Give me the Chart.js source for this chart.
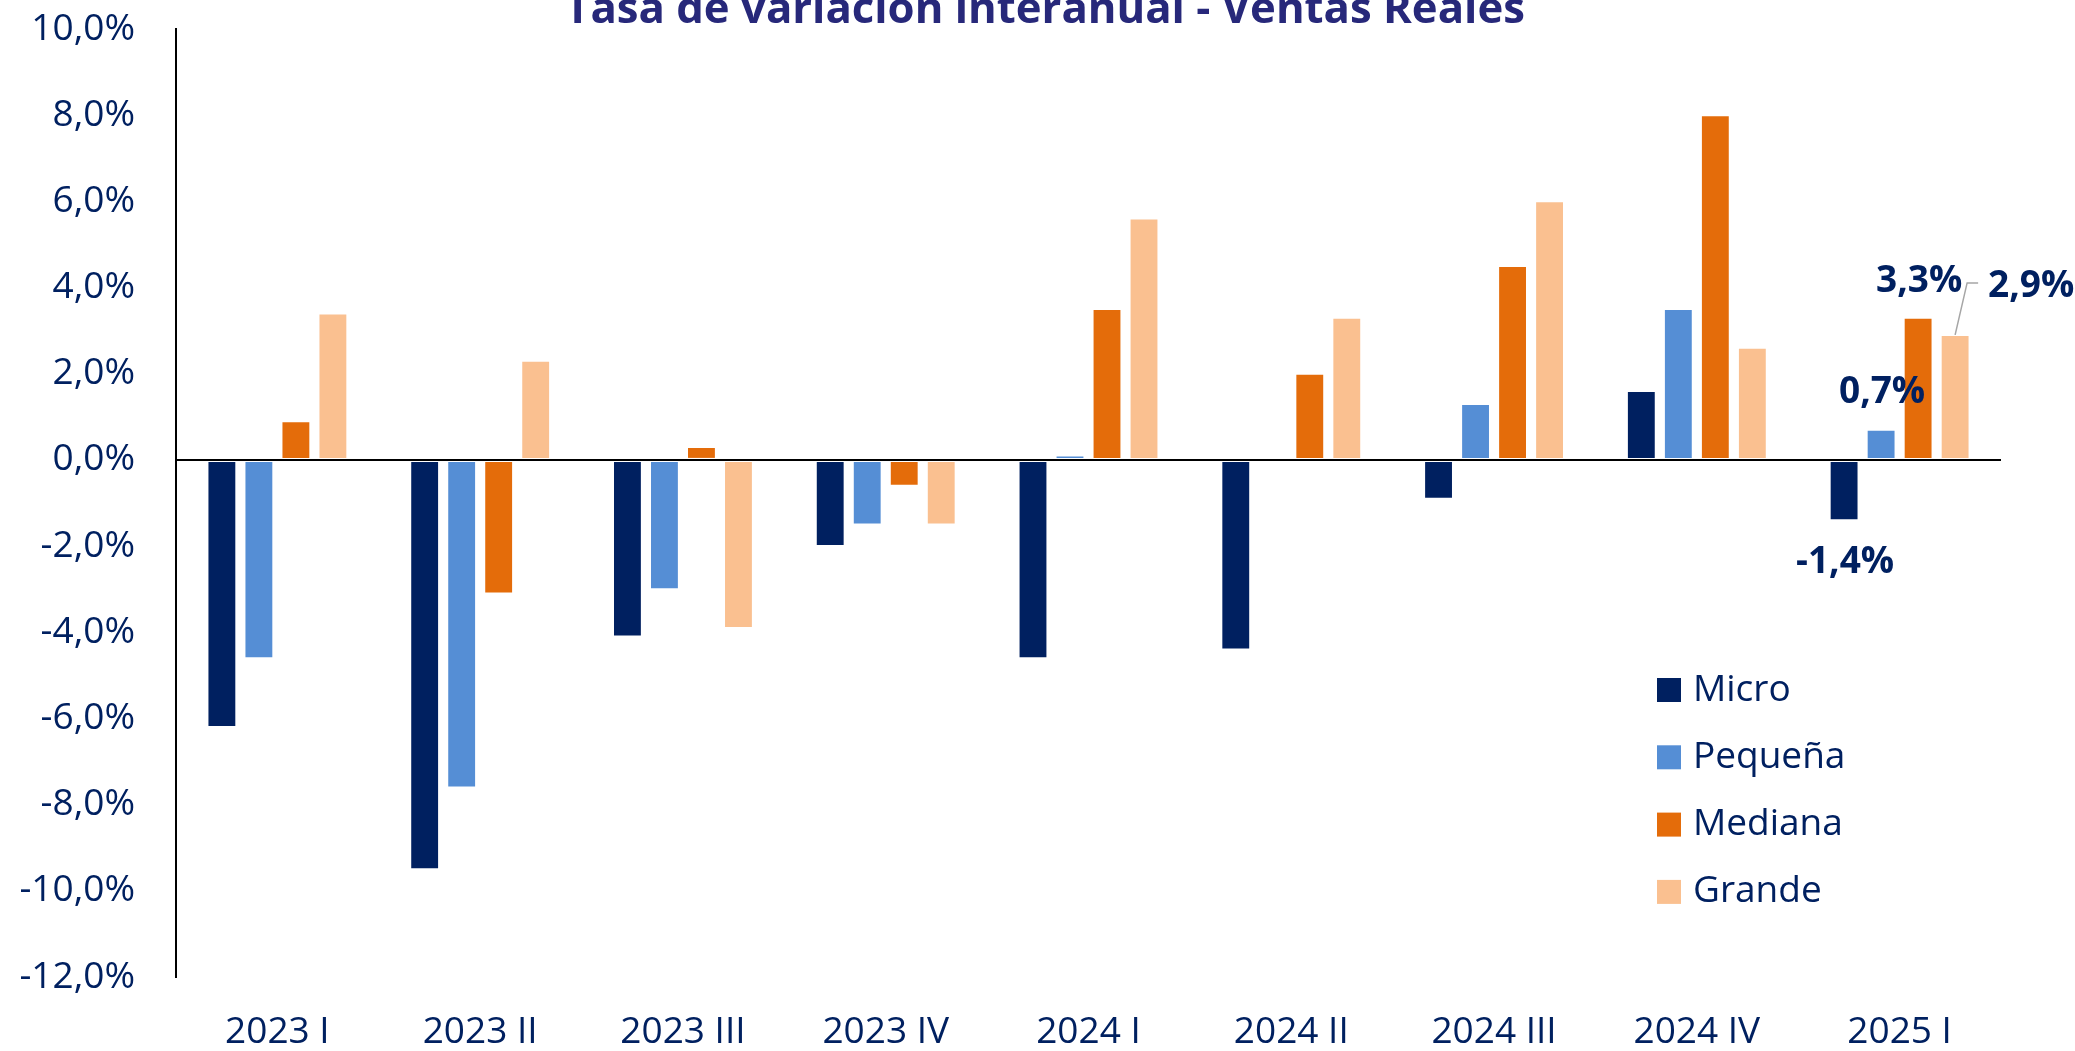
<!DOCTYPE html>
<html>
<head>
<meta charset="utf-8">
<script src="https://cdn.jsdelivr.net/npm/chart.js@4.4.1/dist/chart.umd.min.js"></script>
<style>
  html, body { margin: 0; padding: 0; background: #fff; }
  #wrap { width: 2075px; height: 1051px; position: relative; }
</style>
</head>
<body>
<div id="wrap"><canvas id="barChart" width="2075" height="1051"></canvas></div>
<script>
// Data
const categories = ['2023 I', '2023 II', '2023 III', '2023 IV', '2024 I', '2024 II', '2024 III', '2024 IV', '2025 I'];
const micro   = [-6.2, -9.5, -4.1, -2.0, -4.6, -4.4, -0.9, 1.6, -1.4];
const pequena = [-4.6, -7.6, -3.0, -1.5,  0.1,  0.0,  1.3, 3.5,  0.7];
const mediana = [ 0.9, -3.1,  0.3, -0.6,  3.5,  2.0,  4.5, 8.0,  3.3];
const grande  = [ 3.4,  2.3, -3.9, -1.5,  5.6,  3.3,  6.0, 2.6,  2.9];
const seriesNames = ['Micro', 'Pequeña', 'Mediana', 'Grande'];
const yTicks = [10, 8, 6, 4, 2, 0, -2, -4, -6, -8, -10, -12];
const title = 'Tasa de variación interanual - Ventas Reales';

const colors = ['#002060', '#558ED5', '#E46C0A', '#FAC090'];
const navy = '#002060';
const FONT = '"Open Sans", Lato, sans-serif';

const fmt = v => v.toFixed(1).replace('.', ',') + '%';

// title, cut at the top like in the original
const titlePlugin = {
  id: 'topTitle',
  afterDraw(chart) {
    const ctx = chart.ctx;
    ctx.save();
    let size = 44;
    ctx.font = 'bold ' + size + 'px ' + FONT;
    size = size * 960 / ctx.measureText(title).width;
    ctx.font = 'bold ' + size + 'px ' + FONT;
    ctx.fillStyle = '#27287A';
    ctx.textAlign = 'center';
    ctx.textBaseline = 'alphabetic';
    ctx.fillText(title, 1045, 23);
    ctx.restore();
  }
};

// labels only on the last quarter
const lastLabels = {
  id: 'lastLabels',
  afterDatasetsDraw(chart) {
    const ctx = chart.ctx;
    const i = categories.length - 1;
    ctx.save();
    ctx.font = 'bold 37px ' + FONT;
    ctx.fillStyle = navy;
    ctx.textAlign = 'center';
    ctx.textBaseline = 'middle';
    const bars = chart.data.datasets.map((ds, d) => chart.getDatasetMeta(d).data[i]);
    const vals = chart.data.datasets.map(ds => ds.data[i]);
    // Micro below
    ctx.fillText(fmt(vals[0]), bars[0].x + 1, bars[0].y + 42);
    // Pequeña, Mediana above
    ctx.fillText(fmt(vals[1]), bars[1].x + 1, bars[1].y - 37);
    ctx.fillText(fmt(vals[2]), bars[2].x + 1, bars[2].y - 36);
    // Grande with leader line
    const b = bars[3];
    ctx.strokeStyle = '#A6A6A6';
    ctx.lineWidth = 1.5;
    ctx.beginPath();
    ctx.moveTo(b.x, b.y);
    ctx.lineTo(b.x + 12, b.y - 52);
    ctx.lineTo(b.x + 23, b.y - 52);
    ctx.stroke();
    ctx.fillText(fmt(vals[3]), b.x + 76, b.y - 48);
    ctx.restore();
  }
};

// legend inside plot area, on the right
const sideLegend = {
  id: 'sideLegend',
  afterDraw(chart) {
    const ctx = chart.ctx;
    ctx.save();
    ctx.font = '37px ' + FONT;
    ctx.textBaseline = 'middle';
    ctx.textAlign = 'left';
    seriesNames.forEach((name, k) => {
      const y = 690 + k * 67.3;
      ctx.fillStyle = colors[k];
      ctx.fillRect(1657, y - 12, 24, 24);
      ctx.fillStyle = navy;
      ctx.fillText(name, 1693, y);
    });
    ctx.restore();
  }
};

const seriesData = [micro, pequena, mediana, grande];

new Chart(document.getElementById('barChart'), {
  type: 'bar',
  data: {
    labels: categories,
    datasets: seriesNames.map((name, k) => ({
      label: name,
      data: seriesData[k],
      backgroundColor: colors[k],
      borderColor: 'rgba(255,255,255,0.5)',
      borderWidth: 1,
      borderSkipped: false,
      categoryPercentage: 0.73,
      barPercentage: 0.78
    }))
  },
  options: {
    responsive: false,
    animation: false,
    layout: { padding: { top: 29, right: 74, bottom: 0, left: 0 } },
    plugins: {
      legend: { display: false },
      title: { display: false },
      tooltip: { enabled: false }
    },
    scales: {
      x: {
        grid: { display: false, drawTicks: false },
        border: { display: false },
        ticks: { color: navy, font: { family: FONT, size: 37 }, padding: 33, maxRotation: 0 },
        afterFit(scale) { scale.height = 74; scale.paddingLeft = 0; scale.paddingRight = 0; }
      },
      y: {
        min: -12,
        max: 10,
        afterBuildTicks(scale) { scale.ticks = yTicks.map(v => ({ value: v })); },
        grid: {
          drawTicks: false,
          color: c => (c.tick && c.tick.value === 0) ? '#000000' : 'rgba(0,0,0,0)',
          lineWidth: 2
        },
        border: { display: true, color: '#000000', width: 2 },
        ticks: {
          color: navy,
          font: { family: FONT, size: 37 },
          padding: 41,
          callback: v => fmt(v)
        },
        afterFit(scale) { scale.width = 176; scale.paddingTop = 0; scale.paddingBottom = 0; }
      }
    }
  },
  plugins: [titlePlugin, lastLabels, sideLegend]
});
</script>
</body>
</html>
